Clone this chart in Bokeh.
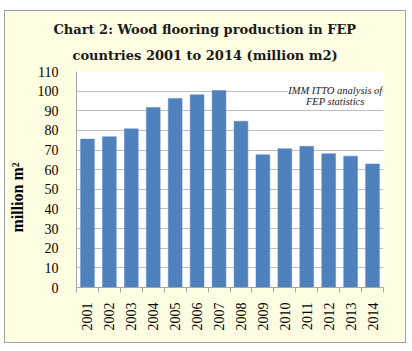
import numpy as np
from bokeh.plotting import figure
from bokeh.models import ColumnDataSource, FixedTicker, Label, Range1d, Title
from bokeh.embed import file_html
from bokeh.resources import INLINE

years = [2001, 2002, 2003, 2004, 2005, 2006, 2007, 2008, 2009, 2010, 2011, 2012, 2013, 2014]
production = [75.6, 76.8, 80.8, 91.7, 96.3, 98.1, 100.3, 84.7, 67.6, 70.7, 71.9, 68.1, 66.9, 62.9]
y_ticks = [0, 10, 20, 30, 40, 50, 60, 70, 80, 90, 100, 110]
title_lines = ["Chart 2: Wood flooring production in FEP", "countries 2001 to 2014 (million m2)"]
y_label = "million m\u00b2"
note = "IMM ITTO analysis of\nFEP statistics"

SERIF = "Liberation Serif"
TITLE_FONT = "DejaVu Serif"
YELLOW = "#FFFDE2"

src = ColumnDataSource(dict(year=years, value=production))

p = figure(width=400, height=331, output_backend="svg", toolbar_location=None,
           x_range=Range1d(years[0] - 0.5, years[-1] + 0.5), y_range=Range1d(0, 110),
           min_border_left=66, min_border_right=22, min_border_top=60, min_border_bottom=55,
           background_fill_color="white", border_fill_color=YELLOW,
           margin=(11, 7, 9, 5))
p.styles = {"outline": "1px solid #A0A0A0"}
p.outline_line_color = None

p.vbar(x="year", top="value", width=0.63, source=src, fill_color="#4F81BD",
       line_color="#5A8AC6", line_width=0.5)

# y axis
p.yaxis.ticker = FixedTicker(ticks=y_ticks)
p.yaxis.major_tick_line_color = None
p.yaxis.minor_tick_line_color = None
p.yaxis.axis_line_color = "#A6A6A6"
p.yaxis.major_label_standoff = 12
p.yaxis.major_label_text_font = SERIF
p.yaxis.major_label_text_font_size = "14px"
p.yaxis.major_label_text_color = "black"
p.yaxis.axis_label = y_label + "\u00a0" * 9
p.yaxis.axis_label_text_font = SERIF
p.yaxis.axis_label_text_font_style = "bold"
p.yaxis.axis_label_text_font_size = "16px"
p.yaxis.axis_label_text_color = "black"
p.yaxis.axis_label_standoff = 9
p.ygrid.grid_line_color = "#BFBFBF"
p.ygrid.grid_line_width = 1

# x axis
p.xaxis.ticker = FixedTicker(ticks=years, minor_ticks=[y - 0.5 for y in years] + [years[-1] + 0.5])
p.xaxis.major_tick_line_color = None
p.xaxis.minor_tick_line_color = "#A6A6A6"
p.xaxis.minor_tick_out = 5
p.xaxis.minor_tick_in = 0
p.xaxis.axis_line_color = "#A6A6A6"
p.xaxis.major_label_orientation = np.pi / 2
p.xaxis.major_label_standoff = 9
p.xaxis.major_label_text_font = SERIF
p.xaxis.major_label_text_font_size = "14px"
p.xaxis.major_label_text_color = "black"
p.xgrid.grid_line_color = None

# title lines: nearest the frame is added first
for txt, so, off in [(title_lines[1], 18, -4), (title_lines[0], 0, -23)]:
    p.add_layout(Title(text=txt, align="left", offset=off, standoff=so, text_font=TITLE_FONT,
                       text_font_style="bold", text_font_size="13px", text_color="#1a1a1a"),
                 "above")

# note
p.add_layout(Label(x=2012.3, y=97.5, text=note, text_align="center", text_baseline="middle",
                   text_font=SERIF, text_font_style="italic", text_font_size="10.5px",
                   text_color="#222222", background_fill_color="white",
                   text_line_height=1.0))

open("out.html", "w").write(file_html(p, INLINE))
